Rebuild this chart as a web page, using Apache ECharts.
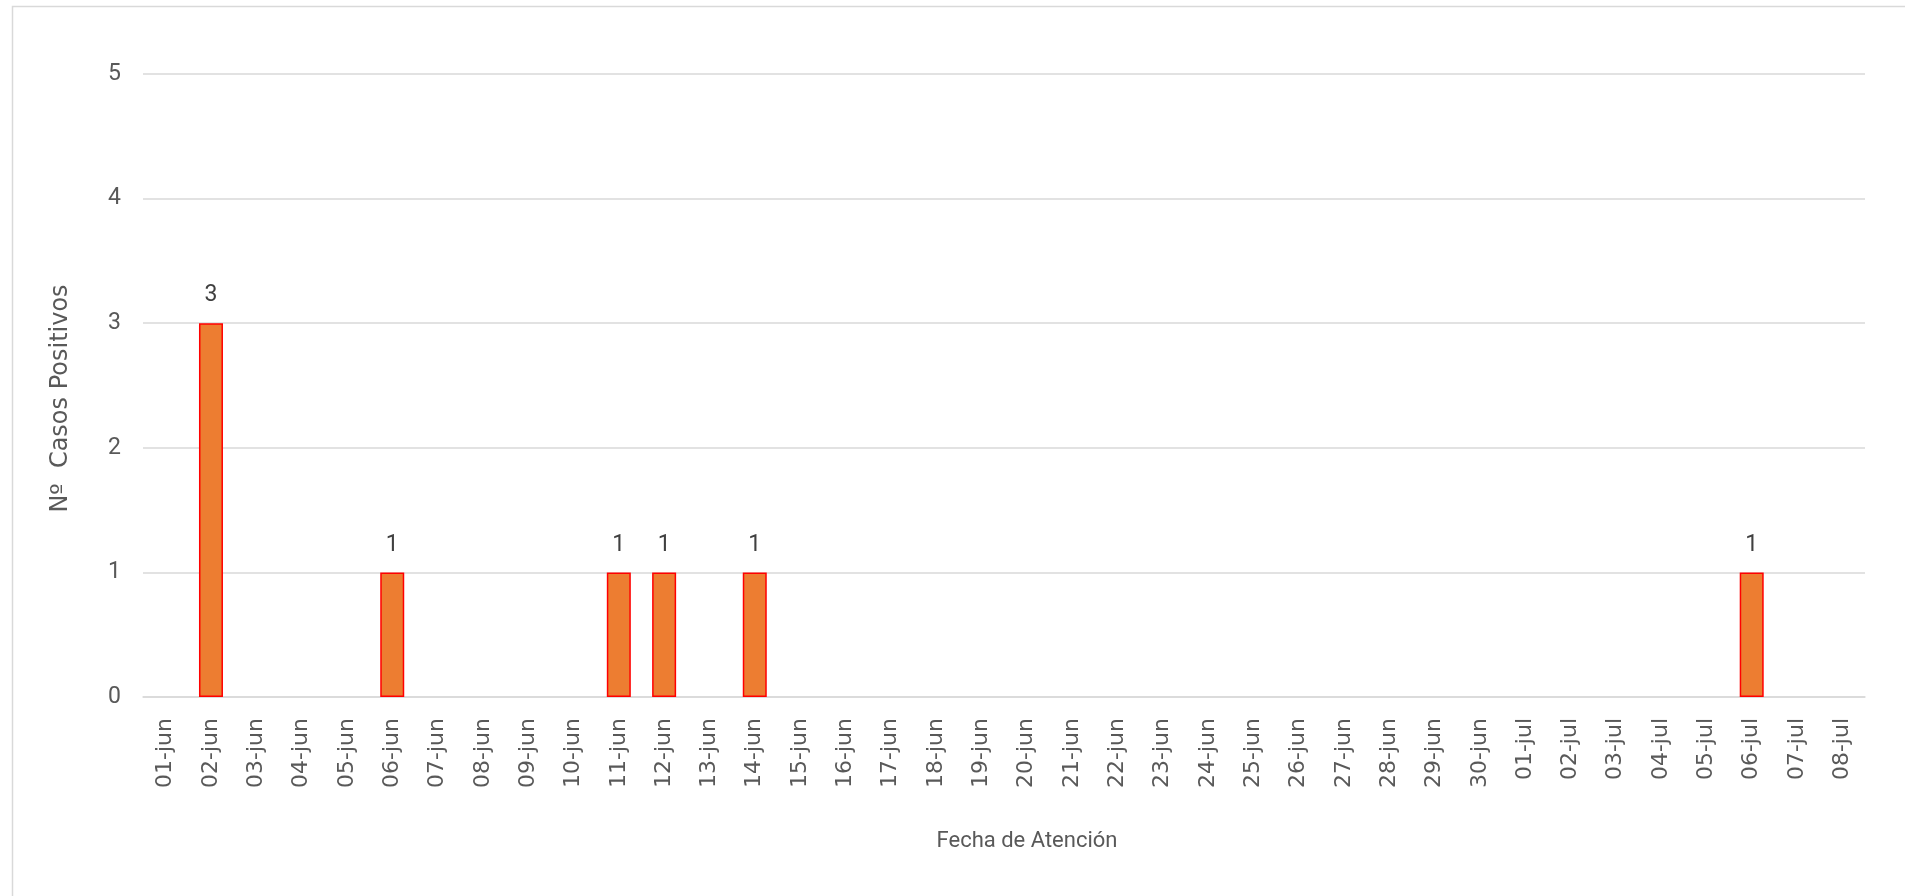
<!DOCTYPE html>
<html>
<head>
<meta charset="utf-8">
<script src="https://cdn.jsdelivr.net/npm/echarts@6/dist/echarts.min.js"></script>
<style>
html,body{margin:0;padding:0;background:#fff;}
#chart{width:1905px;height:896px;}
</style>
</head>
<body>
<div id="chart"></div>
<script>
const categories = [
  '01-jun','02-jun','03-jun','04-jun','05-jun','06-jun','07-jun','08-jun','09-jun','10-jun',
  '11-jun','12-jun','13-jun','14-jun','15-jun','16-jun','17-jun','18-jun','19-jun','20-jun',
  '21-jun','22-jun','23-jun','24-jun','25-jun','26-jun','27-jun','28-jun','29-jun','30-jun',
  '01-jul','02-jul','03-jul','04-jul','05-jul','06-jul','07-jul','08-jul'
];
const casos = [
  null,3,null,null,null,1,null,null,null,null,
  1,1,null,1,null,null,null,null,null,null,
  null,null,null,null,null,null,null,null,null,null,
  null,null,null,null,null,1,null,null
];
const yTicks = [0,1,2,3,4,5];
const xTitle = 'Fecha de Atención';
const yTitle = 'Nº  Casos Positivos';

const narrow = 'Roboto, "Open Sans", sans-serif';
const chart = echarts.init(document.getElementById('chart'));
chart.setOption({
  animation: false,
  backgroundColor: '#fff',
  graphic: [{
    type: 'rect', left: 10, top: 4,
    shape: { width: 2000, height: 1000 },
    style: { fill: 'none', stroke: '#d9d9d9', lineWidth: 1.5 },
    silent: true
  }],
  grid: { left: 143, right: 40, top: 74, bottom: 199 },
  xAxis: {
    type: 'category',
    data: categories,
    axisTick: { show: false },
    axisLine: { lineStyle: { color: '#d9d9d9', width: 1.5 } },
    axisLabel: {
      rotate: 90, margin: 21, interval: 0,
      fontFamily: '"DejaVu Sans", sans-serif', fontSize: 22, color: '#595959'
    },
    name: xTitle,
    nameLocation: 'middle',
    nameGap: 133,
    nameTextStyle: { fontFamily: narrow, fontSize: 22, color: '#595959', padding: [0,0,0,46] }
  },
  yAxis: {
    type: 'value',
    min: yTicks[0], max: yTicks[yTicks.length-1], interval: 1,
    axisLine: { show: false },
    axisTick: { show: false },
    splitLine: { lineStyle: { color: '#d9d9d9', width: 1.5 } },
    axisLabel: { fontFamily: narrow, fontSize: 23, color: '#595959', margin: 22 },
    name: yTitle,
    nameLocation: 'middle',
    nameGap: 70,
    nameRotate: 90,
    nameTextStyle: { fontFamily: '"DejaVu Sans", sans-serif', fontSize: 24, color: '#595959', padding: [0,26,0,0] }
  },
  series: [{
    type: 'bar',
    data: casos,
    barWidth: 24,
    itemStyle: { color: '#ED7D31', borderColor: '#FF0000', borderWidth: 1.5 },
    label: {
      show: true, position: 'top', distance: 16,
      fontFamily: narrow, fontSize: 23, color: '#404040'
    }
  }]
});
</script>
</body>
</html>
